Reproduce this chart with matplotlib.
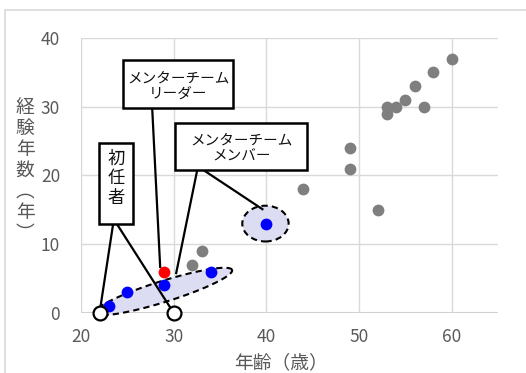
import matplotlib
matplotlib.use("Agg")
import matplotlib.pyplot as plt
from matplotlib.patches import Ellipse, Polygon, Rectangle
import numpy as np

plt.rcParams['font.family'] = ['Noto Sans CJK JP', 'DejaVu Sans']

# 年齢と経験年数
other_age = [60, 58, 56, 55, 54, 53, 53, 57, 52, 49, 49, 44, 33, 32]
other_exp = [37, 35, 33, 31, 30, 30, 29, 30, 15, 24, 21, 18, 9, 7]
member_age = [23, 25, 29, 34, 40]
member_exp = [1, 3, 4, 6, 13]
leader_age = [29]
leader_exp = [6]
newcomer_age = [22, 30]
newcomer_exp = [0, 0]

x_ticks = [20, 30, 40, 50, 60]
y_ticks = [0, 10, 20, 30, 40]

GRAY_TXT = '#595959'
GRID = '#d9d9d9'
FILL = '#dcdcf2'

fig = plt.figure(figsize=(5.26, 3.73), dpi=100)
ax = fig.add_axes([0.154, 0.161, 0.793, 0.737])

# 外枠
fig.patches.append(Rectangle((5 / 526, -0.1), 1.2, 1.1 - 10 / 373,
                             transform=fig.transFigure, fill=False,
                             edgecolor=GRID, linewidth=1.2))

ax.set_xlim(20, 65)
ax.set_ylim(0, 40)
ax.set_xticks(x_ticks)
ax.set_yticks(y_ticks)
for s in ax.spines.values():
    s.set_visible(False)
ax.grid(True, color=GRID, linewidth=1.0, zorder=0)
ax.axhline(0, color='#d0d0d0', linewidth=1.5, zorder=0.5)
ax.tick_params(length=0, labelsize=12.5, labelcolor=GRAY_TXT)
ax.tick_params(axis='y', pad=15)
ax.tick_params(axis='x', pad=11)
ax.set_axisbelow(True)

# メンバーを囲む楕円（表示座標で直交する半径をデータ座標に変換）
px_x = 9.25   # 1目盛あたりのピクセル (x)
px_y = 6.875  # 1目盛あたりのピクセル (y)
e_left = np.array([21.5, 0.0])
e_right = np.array([36.3, 6.25])
center = (e_left + e_right) / 2
a_vec = e_right - center
d = np.array([a_vec[0] * px_x, a_vec[1] * px_y])
perp = np.array([-d[1], d[0]]) / np.hypot(*d) * 10.5
b_vec = np.array([perp[0] / px_x, perp[1] / px_y])
t = np.linspace(0, 2 * np.pi, 200)
pts = center + np.outer(np.cos(t), a_vec) + np.outer(np.sin(t), b_vec)
ax.add_patch(Polygon(pts, closed=True, facecolor=FILL, edgecolor='black',
                     linewidth=1.5, linestyle=(0, (3, 2)), zorder=2,
                     clip_on=False))
ax.add_patch(Ellipse((39.9, 13.0), 5.0, 5.2, facecolor=FILL, edgecolor='black',
                     linewidth=1.5, linestyle=(0, (3, 2)), zorder=2))

# 散布図
ax.scatter(other_age, other_exp, s=72, color='#7f7f7f', zorder=4, linewidths=0)
ax.scatter(member_age, member_exp, s=72, color='#0000ff', zorder=4, linewidths=0)
ax.scatter(leader_age, leader_exp, s=72, color='#ff0000', zorder=4, linewidths=0)

# 引き出し線
lw = 1.6
ax.plot([27.68, 28.54], [29.8, 6.7], color='black', lw=lw, zorder=3)
ax.plot([32.54, 30.27], [20.8, 5.8], color='black', lw=lw, zorder=3)
ax.plot([33.2, 39.57], [20.8, 15.1], color='black', lw=lw, zorder=3)
ax.plot([23.46, newcomer_age[0]], [12.9, newcomer_exp[0]], color='black', lw=lw, zorder=3)
ax.plot([23.89, newcomer_age[1]], [12.9, newcomer_exp[1]], color='black', lw=lw, zorder=3)

ax.scatter(newcomer_age, newcomer_exp, s=100, facecolor='white', edgecolor='black',
           linewidths=1.6, zorder=5, clip_on=False)

# 吹き出しの枠とテキスト
def callout(x0, x1, y0, y1, text, size, tx=None, ty=None, ls=1.2):
    ax.add_patch(Rectangle((x0, y0), x1 - x0, y1 - y0, facecolor='white',
                           edgecolor='black', linewidth=1.8, zorder=6))
    ax.text((x0 + x1) / 2 if tx is None else tx,
            (y0 + y1) / 2 if ty is None else ty,
            text, ha='center', va='center', fontsize=size, color='#111111',
            linespacing=ls, zorder=7)

callout(24.54, 36.43, 29.8, 36.8, 'メンターチーム\nリーダー', 10.5, ty=33.0)
callout(30.16, 44.43, 20.8, 27.6, 'メンターチーム\nメンバー', 10.5, ty=23.9)
callout(21.95, 25.62, 12.9, 24.7, '初\n任\n者', 12.5, ty=19.6, ls=1.1)

# 軸ラベル
fig.text(25 / 526, 1 - 170 / 373, '経\n験\n年\n数\n︵\n年\n︶', ha='center', va='center',
         fontsize=13.5, color=GRAY_TXT, linespacing=1.0)
fig.text(281 / 526, 1 - 363 / 373, '年齢（歳）', ha='center', va='center',
         fontsize=13.5, color=GRAY_TXT)

fig.savefig('out.png', dpi=100)
